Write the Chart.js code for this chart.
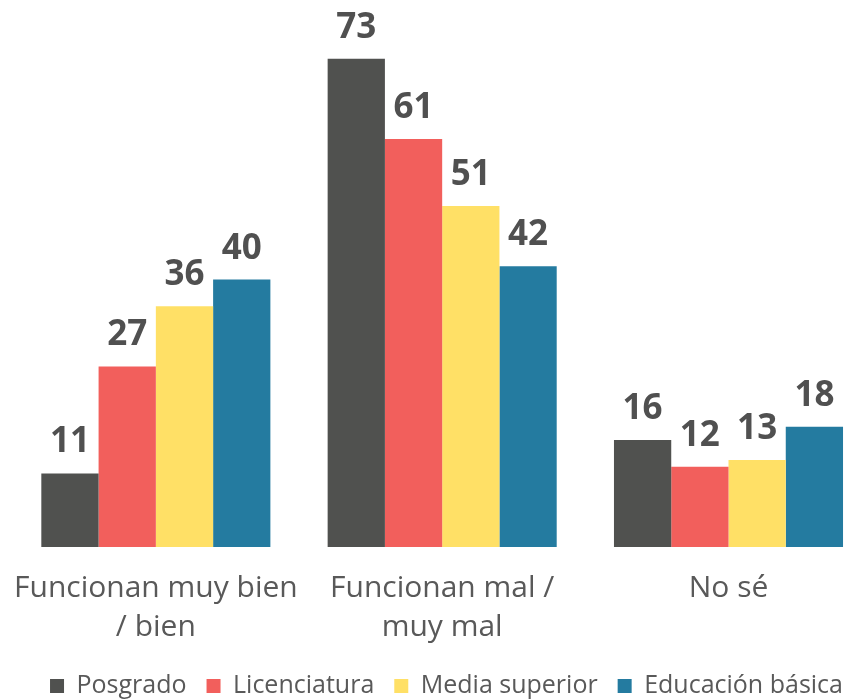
<!DOCTYPE html>
<html>
<head>
<meta charset="utf-8">
<script src="https://cdn.jsdelivr.net/npm/chart.js@4"></script>
<style>
  html, body { margin: 0; padding: 0; background: #fff; }
  #wrap { width: 845px; height: 699px; }
</style>
</head>
<body>
<div id="wrap"><canvas id="chart"></canvas></div>
<script>
const categories = [
  ["Funcionan muy bien", "/ bien"],
  ["Funcionan mal /", "muy mal"],
  "No sé",
];
const posgrado = [11, 73, 16];
const licenciatura = [27, 61, 12];
const mediaSuperior = [36, 51, 13];
const educacionBasica = [40, 42, 18];

const valueLabels = {
  id: "valueLabels",
  afterDatasetsDraw(chart) {
    const ctx = chart.ctx;
    ctx.save();
    ctx.font = "bold 35px 'Open Sans'";
    ctx.fillStyle = "#505050";
    ctx.textAlign = "center";
    ctx.textBaseline = "alphabetic";
    chart.data.datasets.forEach((ds, i) => {
      chart.getDatasetMeta(i).data.forEach((bar, j) => {
        ctx.fillText(ds.data[j], bar.x, bar.y - 21);
      });
    });
    ctx.restore();
  },
};

// legend sits a bit right of centre in the original
const legendShift = {
  id: "legendShift",
  afterLayout(chart) {
    chart.legend.left += 24;
    chart.legend.right += 24;
  },
};

// empty side axes just to hold the plot area in place
const spacer = (w) => ({
  display: true,
  grid: { display: false },
  border: { display: false },
  ticks: { display: false },
  afterFit(scale) {
    scale.width = w;
  },
});

const ctx = document.querySelector("#chart").getContext("2d");
new Chart(ctx, {
  type: "bar",
  data: {
    labels: categories,
    datasets: [
      { label: "Posgrado", data: posgrado, backgroundColor: "#50514F" },
      { label: "Licenciatura", data: licenciatura, backgroundColor: "#F25F5C" },
      { label: "Media superior", data: mediaSuperior, backgroundColor: "#FFE066" },
      { label: "Educación básica", data: educacionBasica, backgroundColor: "#247BA0" },
    ].map((d) => ({ ...d, barPercentage: 1, categoryPercentage: 0.8, clip: false })),
  },
  options: {
    responsive: true,
    maintainAspectRatio: false,
    animation: false,
    layout: { padding: { left: 0, right: 0, top: 12, bottom: -9.5 } },
    plugins: {
      legend: {
        position: "bottom",
        labels: {
          boxWidth: 14,
          boxHeight: 14,
          padding: 20,
          color: "#595959",
          font: { family: "'Open Sans'", size: 25 },
        },
      },
      tooltip: { enabled: false },
    },
    scales: {
      x: {
        offset: false,
        grid: { display: false },
        border: { display: false },
        ticks: {
          color: "#595959",
          padding: 14,
          maxRotation: 0,
          autoSkip: false,
          font: { family: "'Open Sans'", size: 30, lineHeight: 1.3 },
        },
        afterFit(scale) {
          scale.height = 106.5;
        },
      },
      y: { ...spacer(154.5), min: 0, max: 80 },
      right: { ...spacer(116.5), position: "right" },
    },
  },
  plugins: [valueLabels, legendShift],
});
</script>
</body>
</html>
